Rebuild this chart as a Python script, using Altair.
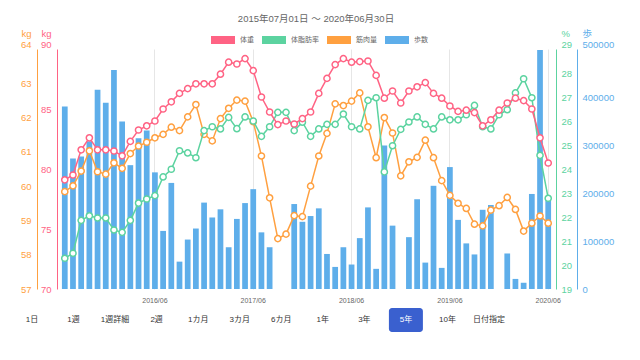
import altair as alt
import pandas as pd

FONT = "Liberation Sans, Noto Sans CJK JP, sans-serif"

# categories: monthly, 2015/07 .. 2020/06
all_months = [f"{y}/{m:02d}" for y in range(2015, 2021) for m in range(1, 13)]
months = all_months[6:66]
tick_months = ["2016/06", "2017/06", "2018/06", "2019/06", "2020/06"]

# 歩数 (steps), monthly totals
steps = [380000, 272000, 276000, 308000, 415000, 388000, 456000, 349000, 258000, 314000,
         330000, 243000, 121000, 221000, 57000, 103000, 126000, 180000, 149000, 166000,
         87000, 146000, 179000, 208000, 118000, 87000, None, None, 177000, 140000,
         152000, 168000, 73000, 46000, 87000, 51000, 106000, 170000, 42000, 299000,
         132000, None, 108000, 187000, 55000, 215000, 44000, 254000, 144000, 95000,
         72000, 165000, 175000, None, 74000, 21000, 13000, 198000, 498000, 185000]

# 体重 (kg)
weight = [79.1, 79.5, 81.6, 82.6, 81.6, 81.6, 81.5, 81.1, 82.3, 83.25,
          83.6, 84.0, 85.0, 85.6, 86.3, 86.7, 87.1, 87.1, 87.1, 87.9,
          88.9, 88.75, 89.2, 88.2, 86.0, 84.75, 83.7, 84.0, 83.75, 84.2,
          84.75, 86.3, 87.55, 88.7, 89.2, 88.9, 88.95, 89.0, 87.8, 85.9,
          86.5, 85.5, 86.5, 86.85, 87.2, 86.3, 85.9, 85.25, 84.8, 84.9,
          84.7, 83.6, 84.1, 84.9, 85.5, 85.9, 85.7, 85.0, 82.6, 80.5]

# 体脂肪率 (%)
fat = [20.28, 20.49, 21.86, 22.05, 21.96, 21.96, 21.46, 21.36, 21.86, 22.58,
       22.75, 22.89, 23.67, 23.99, 24.76, 24.67, 24.47, 25.6, 25.76, 25.67,
       26.15, 25.68, 26.17, 26.0, 25.36, 25.76, 26.36, 26.36, 25.6, 25.95,
       25.36, 25.67, 25.86, 25.86, 26.29, 25.76, 25.67, 26.86, 26.97, 23.88,
       24.97, 25.65, 25.96, 26.17, 25.86, 25.67, 26.17, 26.05, 26.05, 26.26,
       26.65, 25.76, 25.67, 26.26, 26.47, 27.17, 27.76, 26.97, 24.57, 22.78]

# 筋肉量 (kg)
muscle = [59.84, 60.01, 60.44, 61.03, 60.42, 60.35, 60.68, 60.52, 60.95, 61.17,
          61.28, 61.41, 61.51, 61.72, 61.62, 62.02, 62.38, 61.51, 61.32, 61.97,
          62.27, 62.51, 62.48, 61.88, 60.88, 59.66, 58.47, 58.60, 59.14, 59.11,
          60.0, 60.88, 61.54, 62.40, 62.35, 62.48, 62.72, 61.73, 60.83, 62.0,
          61.55, 60.3, 60.71, 60.84, 61.34, 60.83, 60.16, 59.73, 59.5, 59.35,
          58.89, 58.84, 59.3, 59.43, 59.67, 59.32, 58.69, 58.92, 59.13, 58.92]

series_names = ["体重", "体脂肪率", "筋肉量", "歩数"]
series_colors = ["#FF6384", "#5CD3A0", "#FFA040", "#5EAEEA"]
C_W, C_F, C_M, C_S = series_colors

buttons = ["1日", "1週", "1週詳細", "2週", "1カ月", "3カ月", "6カ月", "1年", "3年", "5年", "10年", "日付指定"]
selected_button = "5年"

df = pd.DataFrame({"month": months, "steps": steps, "weight": weight,
                   "fat": fat, "muscle": muscle})
df["series"] = "歩数"

bdf = pd.DataFrame({"label": buttons})
bdf["selected"] = bdf["label"] == selected_button

x_enc = alt.X("month:O", sort=months,
              scale=alt.Scale(paddingInner=0.3, paddingOuter=0.6),
              axis=alt.Axis(values=tick_months, title=None, labelAngle=0, grid=True,
                            bandPosition=0.5, domain=False, ticks=False, tickSize=0,
                            labelFontSize=7, labelColor="#666", labelPadding=7,
                            gridColor="#e6e6e6"))


def yaxis(orient, offset, values, title, color, top):
    left = orient == "left"
    return alt.Axis(orient=orient, offset=offset, values=values, title=title,
                    titleAngle=0, titleAlign="right" if left else "left",
                    titleBaseline="middle", titleX=-6 if left else 5, titleY=-16,
                    titleColor=color, titleFontSize=9.5, titleFontWeight="normal",
                    labelColor=color, labelFontSize=9.5, labelPadding=6 if left else 5,
                    labelBaseline={"condition": {"test": f"datum.value == {top}", "value": "bottom"},
                                   "value": "middle"},
                    domainColor=color, domainWidth=1, ticks=False, tickSize=0,
                    grid=False, labelOverlap=False, format="d")


base = alt.Chart(df)

bars = base.mark_bar().encode(
    x=x_enc,
    y=alt.Y("steps:Q", scale=alt.Scale(domain=[0, 500000], nice=False),
            axis=yaxis("right", 21, [0, 100000, 200000, 300000, 400000, 500000], "歩", C_S, 500000)),
    color=alt.Color("series:N", scale=alt.Scale(domain=series_names, range=series_colors),
                    legend=alt.Legend(orient="none", legendX=158, legendY=-17, direction="horizontal",
                                      title=None, symbolType="M-1.5,-0.5H1.5V0.5H-1.5Z",
                                      symbolSize=256, symbolStrokeWidth=0, symbolOpacity=1,
                                      labelFontSize=7, labelColor="#666", labelOffset=9,
                                      columnPadding=8, padding=0)),
)


def line_layer(field, color, axis, domain):
    return base.mark_line(color=color, strokeWidth=1.5,
                          point=alt.OverlayMarkDef(filled=False, fill="white", color=color,
                                                   size=38, strokeWidth=1.5, opacity=1)).encode(
        x=x_enc,
        y=alt.Y(f"{field}:Q", scale=alt.Scale(domain=domain, nice=False, zero=False), axis=axis),
    )


muscle_l = line_layer("muscle", C_M, yaxis("left", 20, list(range(57, 65)), "kg", C_M, 64), [57, 64])
fat_l = line_layer("fat", C_F, yaxis("right", 0, list(range(19, 30)), "%", C_F, 29), [19, 29])
weight_l = line_layer("weight", C_W, yaxis("left", 0, [70, 75, 80, 85, 90], "kg", C_W, 90), [70, 90])

inner = alt.layer(bars, muscle_l, fat_l, weight_l).resolve_scale(y="independent")

bx = alt.X("label:N", sort=buttons,
           scale=alt.Scale(type="point", domain=buttons, range=[-25, 432], padding=0),
           axis=None)

rounded = ("M-1.4,-1.2H1.4A0.3,0.3 0 0 1 1.7,-0.9V0.9A0.3,0.3 0 0 1 1.4,1.2"
           "H-1.4A0.3,0.3 0 0 1 -1.7,0.9V-0.9A0.3,0.3 0 0 1 -1.4,-1.2Z")

btn_box = alt.Chart(bdf).transform_filter("datum.selected").mark_point(
    shape=rounded, size=400, filled=True, color="#3A60CF", opacity=1, strokeWidth=0
).encode(x=bx, y=alt.value(271))

btn_text = alt.Chart(bdf).mark_text(fontSize=8, font=FONT, baseline="middle", align="center").encode(
    x=bx, y=alt.value(271),
    text=alt.Text("label:N"),
    color=alt.condition("datum.selected", alt.value("white"), alt.value("#333")),
)

btns = alt.layer(btn_box, btn_text)

chart = alt.layer(inner, btns).resolve_scale(x="independent", y="independent").properties(
    width=499, height=240,
    title=alt.TitleParams("2015年07月01日 〜 2020年06月30日", fontSize=9.5, fontWeight="normal",
                          color="#666", anchor="middle", frame="group", dx=9.5, offset=5),
    autosize=alt.AutoSizeParams(type="none"),
    padding={"left": 49, "top": 41, "right": 76, "bottom": 63},
).configure(font=FONT).configure_view(stroke=None)

chart.save("out.html", embed_options={"renderer": "svg", "actions": False})
